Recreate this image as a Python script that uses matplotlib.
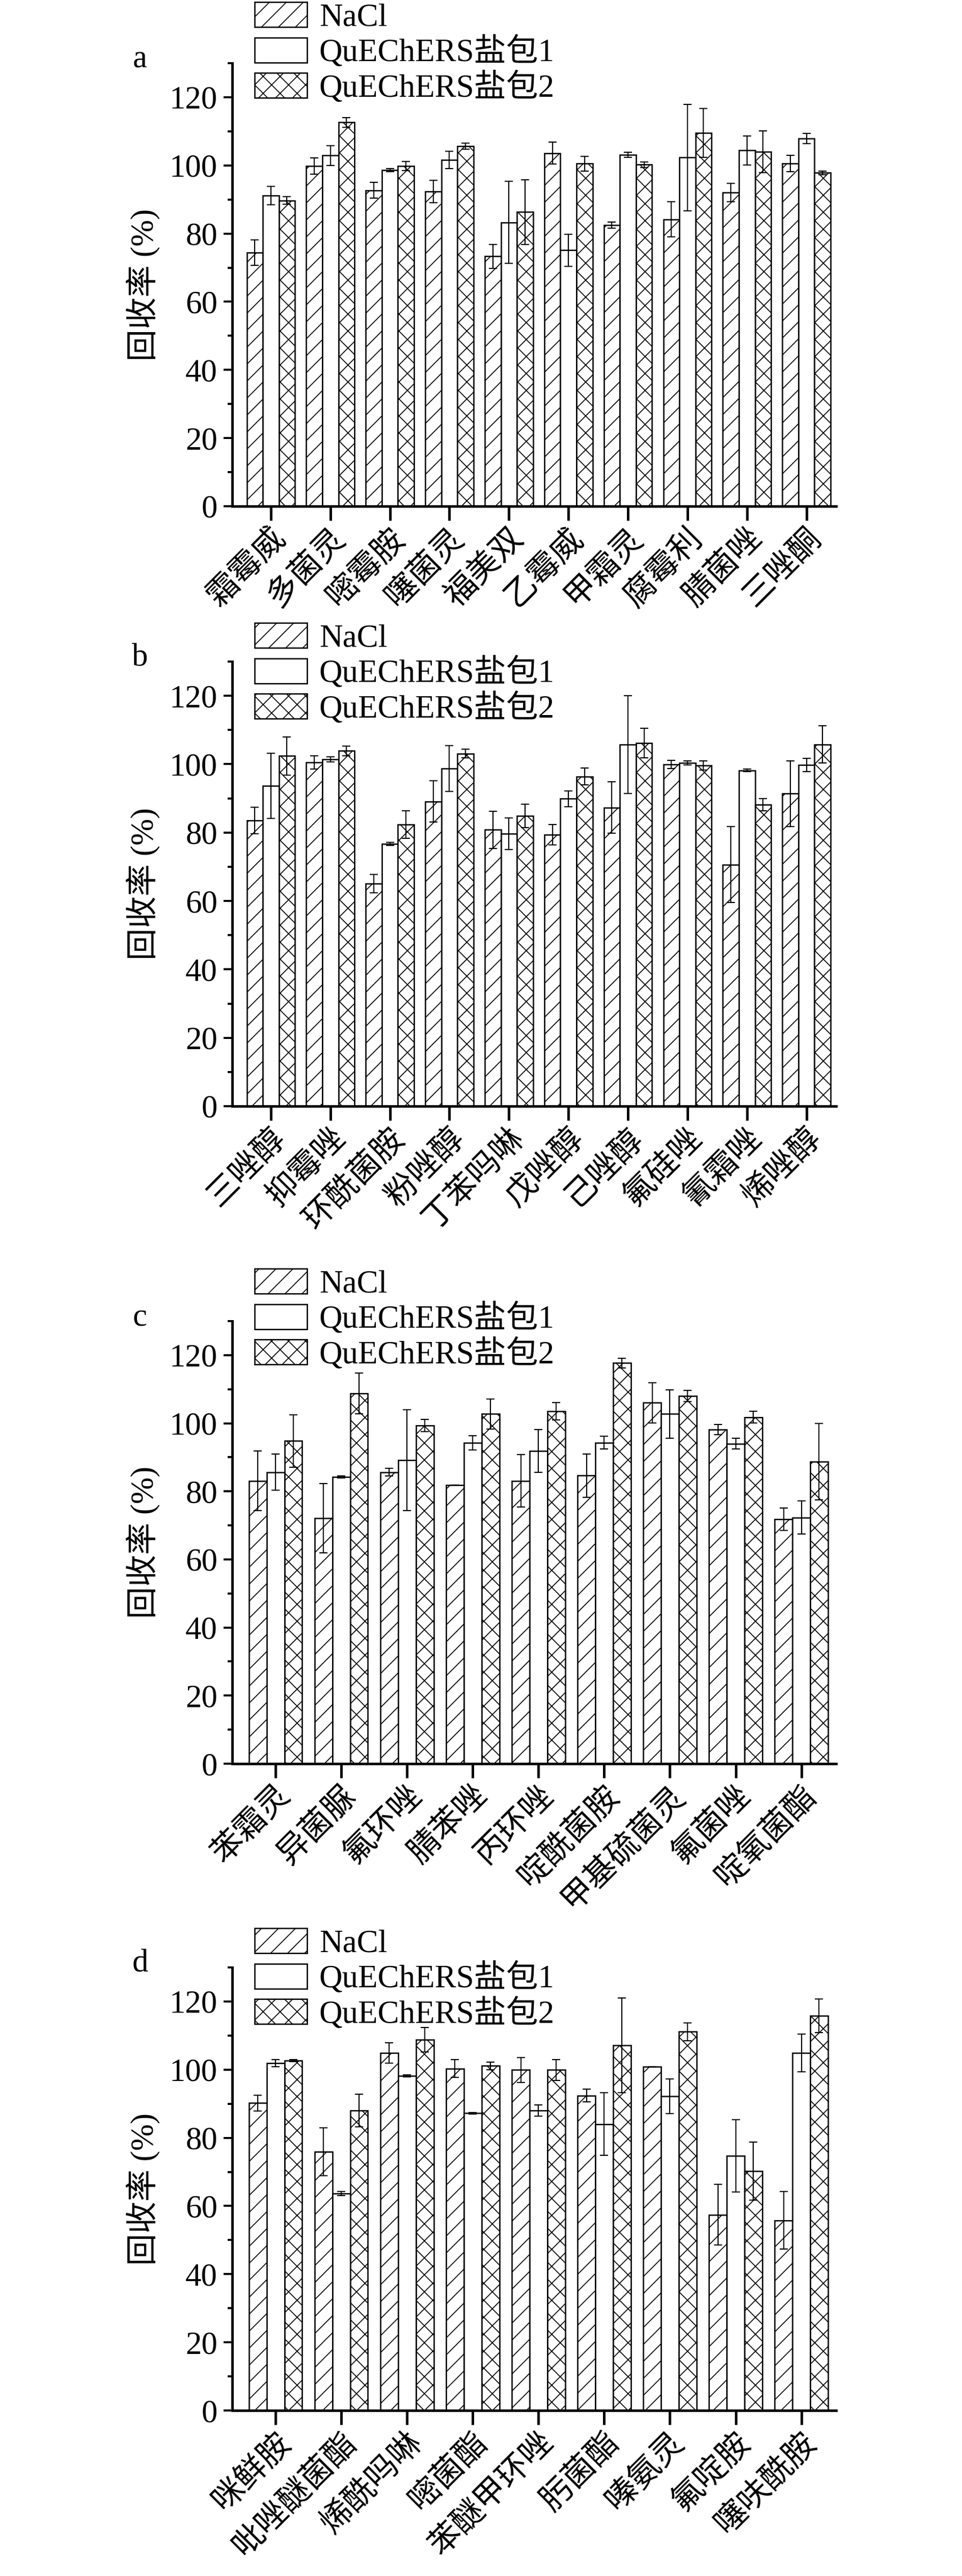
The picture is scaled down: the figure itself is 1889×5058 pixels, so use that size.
import matplotlib
matplotlib.use("Agg")
import matplotlib.pyplot as plt
import numpy as np
from matplotlib.ticker import MultipleLocator, AutoMinorLocator

plt.rcParams['font.family'] = ['Liberation Serif', 'Noto Sans CJK SC']

# ---- data (recovery %, mean and error) ----
names_a = ['霜霉威', '多菌灵', '嘧霉胺', '噻菌灵', '福美双', '乙霉威', '甲霜灵', '腐霉利', '腈菌唑', '三唑酮']
nacl_a = [74.4, 99.8, 92.7, 92.4, 73.3, 103.6, 82.5, 84.2, 92.0, 100.6]
nacl_a_err = [3.7, 2.4, 2.3, 3.3, 3.5, 3.2, 0.9, 5.2, 2.7, 2.4]
q1_a = [91.2, 102.9, 98.6, 101.6, 83.3, 75.1, 103.1, 102.3, 104.4, 107.9]
q1_a_err = [2.7, 2.9, 0.5, 2.5, 12.0, 4.7, 0.8, 15.6, 4.3, 1.5]
q2_a = [89.7, 112.6, 99.8, 105.6, 86.3, 100.5, 100.2, 109.5, 104.0, 97.8]
q2_a_err = [1.1, 1.4, 1.4, 0.9, 9.5, 2.2, 0.8, 7.2, 6.2, 0.5]

names_b = ['三唑醇', '抑霉唑', '环酰菌胺', '粉唑醇', '丁苯吗啉', '戊唑醇', '己唑醇', '氟硅唑', '氰霜唑', '烯唑醇']
nacl_b = [83.5, 100.5, 65.1, 89.1, 80.8, 79.4, 87.3, 99.9, 70.6, 91.4]
nacl_b_err = [3.9, 1.9, 2.7, 6.0, 5.4, 3.0, 7.5, 1.2, 11.1, 9.6]
q1_b = [93.7, 101.4, 76.7, 98.7, 79.7, 89.9, 105.7, 100.4, 98.2, 99.8]
q1_b_err = [9.5, 0.8, 0.4, 6.7, 4.6, 2.3, 14.3, 0.6, 0.4, 1.9]
q2_b = [102.4, 103.9, 82.4, 103.1, 84.9, 96.4, 106.2, 99.6, 88.1, 105.8]
q2_b_err = [5.6, 1.4, 4.0, 1.3, 3.4, 2.5, 4.3, 1.3, 1.8, 5.5]

names_c = ['苯霜灵', '异菌脲', '氟环唑', '腈苯唑', '丙环唑', '啶酰菌胺', '甲基硫菌灵', '氟菌唑', '啶氧菌酯']
nacl_c = [83.1, 72.1, 85.6, 81.9, 83.1, 84.6, 106.0, 98.1, 71.8]
nacl_c_err = [8.7, 10.2, 1.1, 0.0, 7.7, 6.3, 5.9, 1.5, 3.3]
q1_c = [85.6, 84.2, 89.1, 94.3, 91.8, 94.3, 102.7, 94.0, 72.3]
q1_c_err = [5.3, 0.3, 14.8, 2.1, 6.3, 1.9, 7.1, 1.6, 4.9]
q2_c = [94.8, 108.7, 99.3, 102.7, 103.5, 117.7, 108.0, 101.8, 88.7]
q2_c_err = [7.7, 6.0, 1.8, 4.4, 2.5, 1.4, 1.6, 1.7, 11.2]

names_d = ['咪鲜胺', '吡唑醚菌酯', '烯酰吗啉', '嘧菌酯', '苯醚甲环唑', '肟菌酯', '嗪氨灵', '氟啶胺', '噻呋酰胺']
nacl_d = [90.2, 75.9, 104.9, 100.3, 99.9, 92.4, 100.8, 57.4, 55.8]
nacl_d_err = [2.3, 7.0, 3.0, 2.6, 3.7, 1.9, 0.0, 8.9, 8.5]
q1_d = [101.9, 63.7, 98.2, 87.2, 88.0, 84.0, 92.2, 74.7, 104.9]
q1_d_err = [1.1, 0.6, 0.3, 0.2, 1.7, 9.2, 5.1, 10.6, 5.5]
q2_d = [102.6, 88.0, 108.8, 101.1, 99.9, 107.2, 111.1, 70.2, 115.8]
q2_d_err = [0.3, 4.8, 3.6, 1.1, 3.1, 13.9, 2.6, 8.5, 4.9]

series_labels = ['NaCl', 'QuEChERS盐包1', 'QuEChERS盐包2']
panel_letters = ['a', 'b', 'c', 'd']

panels = [
    (names_a, nacl_a, nacl_a_err, q1_a, q1_a_err, q2_a, q2_a_err),
    (names_b, nacl_b, nacl_b_err, q1_b, q1_b_err, q2_b, q2_b_err),
    (names_c, nacl_c, nacl_c_err, q1_c, q1_c_err, q2_c, q2_c_err),
    (names_d, nacl_d, nacl_d_err, q1_d, q1_d_err, q2_d, q2_d_err),
]

# ---- layout (pixels in a 1890 x 5058 canvas) ----
W, H = 1890, 5058
DPI = 100


def pt(px):
    # pixel size -> points at this dpi
    return px * 72.0 / DPI


FS = pt(63)
plt.rcParams['hatch.linewidth'] = pt(1.8)

ax_left, ax_right = 456, 1642
ax_tops = [124, 1299, 2594, 3863]
ax_bottoms = [994, 2172, 3463, 4733]
legend_mid = [104, 1323, 2591, 3886]
legend_x = 500

fig = plt.figure(figsize=(W / DPI, H / DPI), dpi=DPI)
fig.patch.set_facecolor('white')

bw = 0.27
hatches = ['/', '', 'x']

for i, (names, n, ne, a1, a1e, a2, a2e) in enumerate(panels):
    ax = fig.add_axes([ax_left / W, 1 - ax_bottoms[i] / H,
                       (ax_right - ax_left) / W, (ax_bottoms[i] - ax_tops[i]) / H])
    x = np.arange(len(names))
    handles = []
    for k, (vals, errs) in enumerate([(n, ne), (a1, a1e), (a2, a2e)]):
        b = ax.bar(x + (k - 1) * bw, vals, bw, yerr=errs, color='white',
                   edgecolor='black', linewidth=pt(2.6), hatch=hatches[k],
                   error_kw=dict(ecolor='black', elinewidth=pt(2.2), capsize=pt(8),
                                 capthick=pt(2.2)),
                   label=series_labels[k])
        handles.append(b)

    if len(names) == 10:
        ax.set_xlim(-0.65, 9.5)
    else:
        ax.set_xlim(-0.66, 8.53)
    ax.set_ylim(0, 130)
    ax.yaxis.set_major_locator(MultipleLocator(20))
    ax.yaxis.set_minor_locator(AutoMinorLocator(2))
    ax.set_xticks(x)
    ax.set_xticklabels(names, rotation=45, ha='right', va='top',
                       rotation_mode='anchor', fontsize=FS)
    ax.tick_params(axis='x', direction='out', length=pt(28), width=pt(5), pad=pt(6))
    ax.tick_params(axis='y', which='major', direction='out', length=pt(17), width=pt(4),
                   pad=pt(12), labelsize=FS)
    ax.tick_params(axis='y', which='minor', direction='out', length=pt(9), width=pt(4))
    for s in ['top', 'right']:
        ax.spines[s].set_visible(False)
    for s in ['left', 'bottom']:
        ax.spines[s].set_linewidth(pt(5))

    ax.set_ylabel('回收率 (%)', fontsize=FS)
    ax.yaxis.set_label_coords(-0.119, 0.5)

    ax.text((275 - ax_left) / (ax_right - ax_left), 1.0 + 7 / (ax_bottoms[i] - ax_tops[i]),
            panel_letters[i], transform=ax.transAxes, fontsize=FS, va='center', ha='center')

    ax.legend(handles=handles, loc='center left',
              bbox_to_anchor=(legend_x / W, 1 - legend_mid[i] / H),
              bbox_transform=fig.transFigure, frameon=False, fontsize=FS,
              borderpad=0, borderaxespad=0, handlelength=1.63, handleheight=0.81,
              handletextpad=0.38, labelspacing=0.1)

plt.savefig('out.png', dpi=DPI, facecolor='white')
